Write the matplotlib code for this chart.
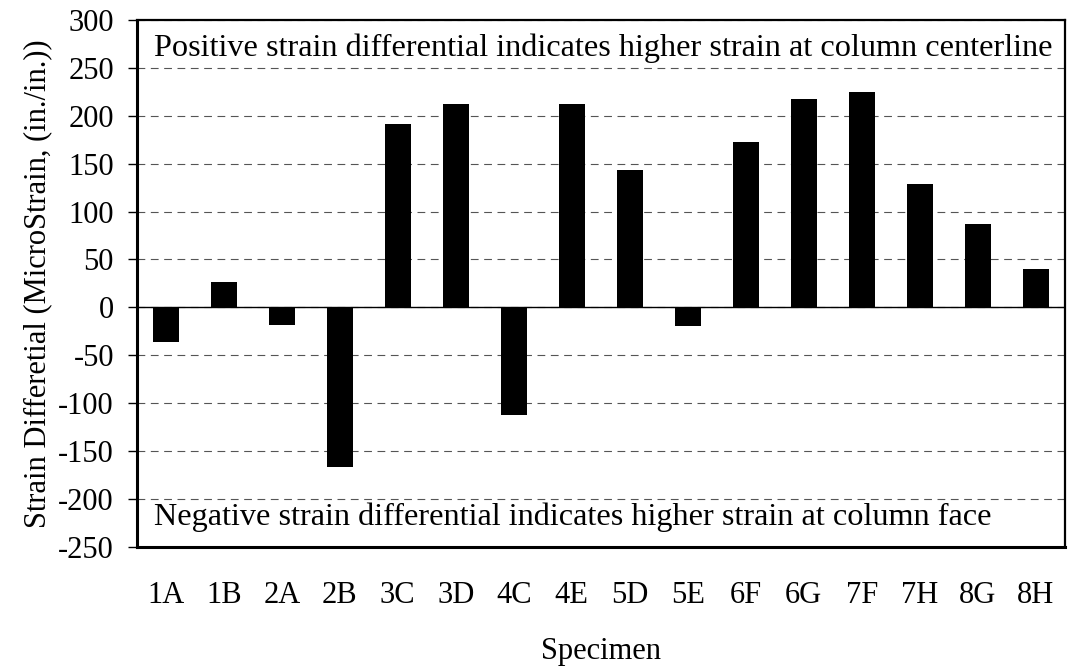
import numpy as np
import matplotlib
matplotlib.use("Agg")
import matplotlib.pyplot as plt

specimens = ['1A', '1B', '2A', '2B', '3C', '3D', '4C', '4E',
             '5D', '5E', '6F', '6G', '7F', '7H', '8G', '8H']
strain_diff = [-36, 26, -18, -167, 192, 212, -112, 212,
               143, -19, 173, 218, 225, 129, 87, 40]
y_ticks = list(range(-250, 301, 50))

plt.rcParams['font.family'] = ['Liberation Serif', 'DejaVu Serif']
fs = 22
fs_note = 23.2

fig = plt.figure(figsize=(10.69, 6.70), dpi=100)
ax = fig.add_axes([0.128, 0.184, 0.868, 0.786])

x = np.arange(len(specimens))
ax.bar(x, strain_diff, width=0.45, color='black', zorder=3)
ax.axhline(0, color='black', lw=1.0, zorder=2)

ax.set_xlim(-0.5, len(specimens) - 0.5)
ax.set_ylim(-250, 300)
ax.set_yticks(y_ticks)
ax.set_yticklabels([str(v) for v in y_ticks])
ax.set_xticks(x)
ax.set_xticklabels(specimens)
ax.yaxis.grid(True, color='#555555', linestyle=(0, (7, 5)), lw=0.8, zorder=1)

ax.tick_params(axis='y', labelsize=fs, length=6.5, width=1, direction='out', pad=10)
ax.tick_params(axis='x', labelsize=fs, length=0, pad=25)
for sp in ax.spines.values():
    sp.set_linewidth(1.6)
ax.spines['left'].set_linewidth(2.2)
ax.spines['bottom'].set_linewidth(2.2)

ax.set_ylabel('Strain Differetial (MicroStrain, (in./in.))', fontsize=fs, labelpad=4)
ax.set_xlabel('Specimen', fontsize=fs, labelpad=19)

# notes inside the plot area
ax.text(0.019, 0.974, 'Positive strain differential indicates higher strain at column centerline',
        transform=ax.transAxes, ha='left', va='top', fontsize=fs_note, zorder=4)
ax.text(0.018, 0.028, 'Negative strain differential indicates higher strain at column face',
        transform=ax.transAxes, ha='left', va='bottom', fontsize=fs_note, zorder=4)

fig.savefig('out.png', dpi=100)
